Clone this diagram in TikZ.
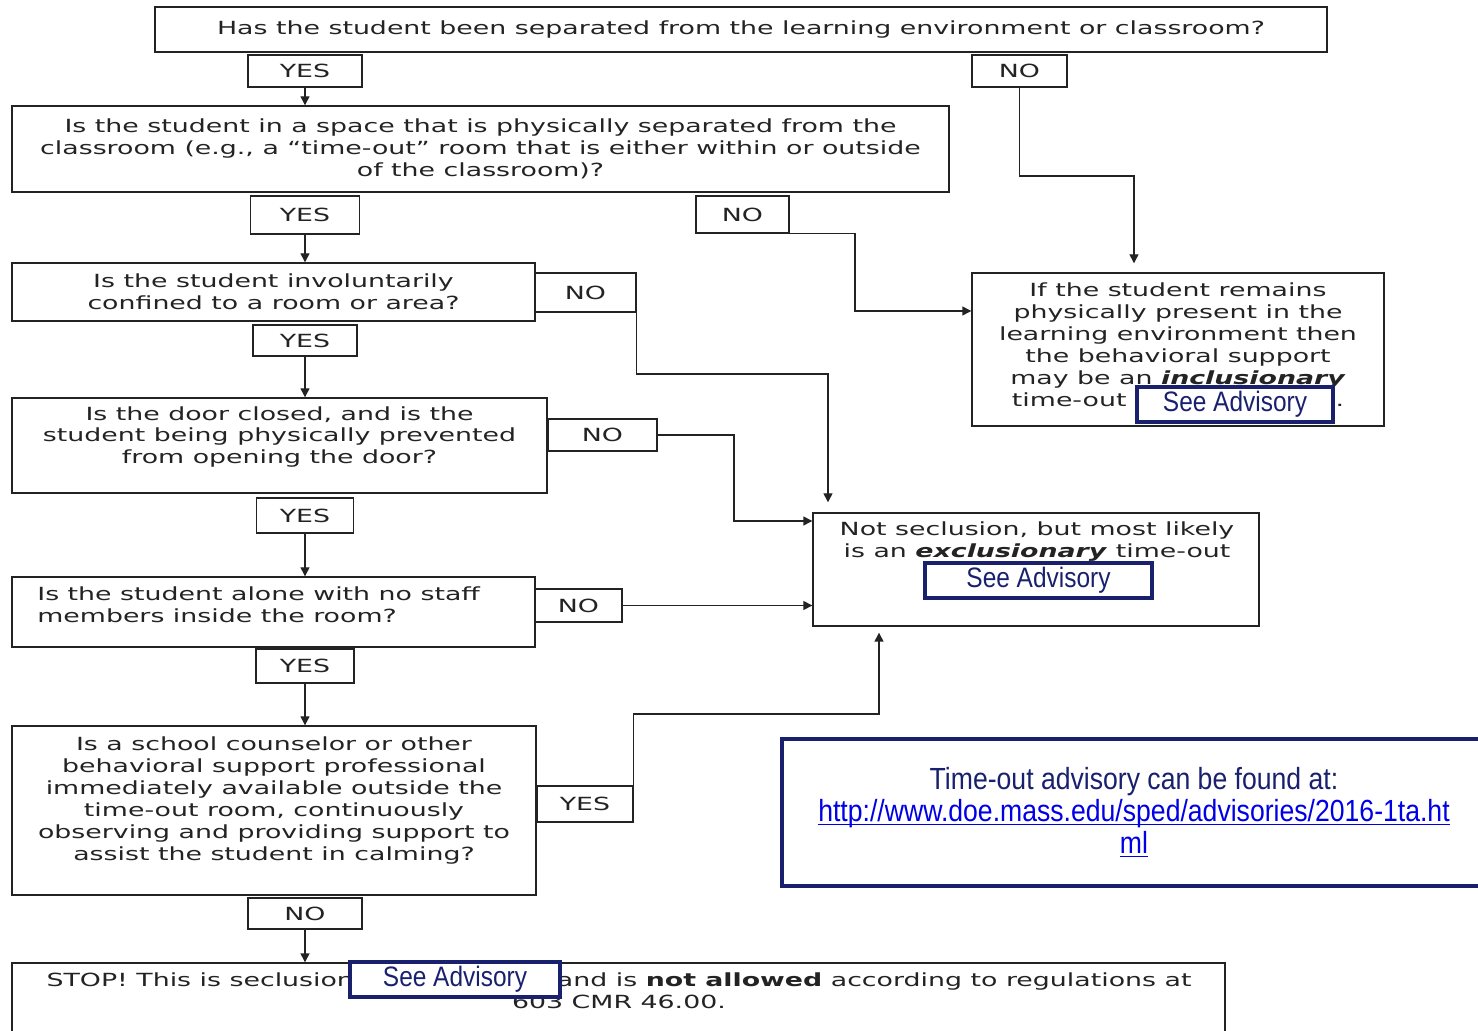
\documentclass[tikz,border=0pt]{standalone}
\usepackage{fontspec}
\setmainfont{DejaVu Sans}[FakeStretch=1.48]
\newfontfamily\advfont{Liberation Sans}[FakeStretch=0.87]
\usetikzlibrary{arrows.meta}
\definecolor{navy}{RGB}{25,33,110}
\definecolor{ink}{RGB}{35,35,35}
\definecolor{linkblue}{RGB}{0,0,230}
\newcommand\linkline[1]{\underline{\smash{#1}}}

\begin{document}
\begin{tikzpicture}[x=0.2mm,y=-0.2mm,
  box/.style={draw=ink,line width=0.8pt,inner sep=0pt,align=center,text=ink,font=\fontsize{10.3}{12.5}\selectfont},
  txt/.style={inner sep=0pt,align=center,text=ink,font=\fontsize{10.3}{12.5}\selectfont},
  seeadv/.style={draw=navy,line width=2pt,fill=white,inner sep=0pt,text=navy,font=\advfont\fontsize{16}{18}\selectfont,minimum height=7mm},
  arr/.style={draw=ink,line width=0.8pt,-{Triangle[length=1.8mm,width=1.8mm]}}]
  \useasboundingbox (0,0) rectangle (1478,1031);
  \fill[white] (0,0) rectangle (1478,1031);

  \node[box,minimum width=234.4mm,minimum height=9mm] (q0) at (741,29.5) {Has the student been separated from the learning environment or classroom?};
  \node[box,minimum width=22.8mm,minimum height=6.4mm] (y0) at (305,71) {YES};
  \node[box,minimum width=19mm,minimum height=6.4mm] (n0) at (1019.5,71) {NO};
  \node[box,minimum width=187.4mm,minimum height=17.2mm] (q1) at (480.5,149) {Is the student in a space that is physically separated from the\\classroom (e.g., a “time-out” room that is either within or outside\\of the classroom)?};
  \node[box,minimum width=21.8mm,minimum height=7.6mm] (y1) at (305,215) {YES};
  \node[box,minimum width=18.6mm,minimum height=7.4mm] (n1) at (742.5,214.5) {NO};
  \node[box,minimum width=104.6mm,minimum height=11.6mm] (q2) at (273.5,292) {Is the student involuntarily\\confined to a room or area?};
  \node[box,minimum width=20.2mm,minimum height=7.8mm] (n2) at (585.5,292.5) {NO};
  \node[box,minimum width=20.8mm,minimum height=6.2mm] (y2) at (305,340.5) {YES};
  \node[box,minimum width=107mm,minimum height=19mm] (q3) at (279.5,445.5) {};
  \node[txt] (q3txt) at (279.5,437) {Is the door closed, and is the\\student being physically prevented\\from opening the door?};
  \node[box,minimum width=21.8mm,minimum height=6.4mm] (n3) at (602.5,435) {NO};
  \node[box,minimum width=19.4mm,minimum height=7mm] (y3) at (305,515.5) {YES};
  \node[box,minimum width=104.6mm,minimum height=14mm] (q4) at (273.5,612) {};
  \node[txt,align=left,anchor=west] (q4txt) at (37,605) {Is the student alone with no staff\\members inside the room?};
  \node[box,minimum width=17.4mm,minimum height=6.6mm] (n4) at (578.5,605.5) {NO};
  \node[box,minimum width=19.6mm,minimum height=6.8mm] (y4) at (305,666) {YES};
  \node[box,minimum width=104.8mm,minimum height=33.8mm] (q5) at (274,810.5) {};
  \node[txt] (q5txt) at (274,800.5) {Is a school counselor or other\\behavioral support professional\\immediately available outside the\\time-out room, continuously\\observing and providing support to\\assist the student in calming?};
  \node[box,minimum width=19.2mm,minimum height=7.2mm] (y5) at (585,804) {YES};
  \node[box,minimum width=22.8mm,minimum height=6.2mm] (n5) at (305,913.5) {NO};
  \node[box,minimum width=242.6mm,minimum height=19.4mm] (s) at (618.5,1011.5) {};
  \node[txt] (stxt) at (619,991) {STOP! This is seclusion\hspace{40.6mm}and is \textbf{not allowed} according to regulations at\\603 CMR 46.00.};
  \node[seeadv,minimum width=42mm] (sa3) at (455,979.5) {See Advisory};

  \node[box,minimum width=82.4mm,minimum height=30.6mm] (r1) at (1178,349.5) {};
  \node[txt] (r1txt) at (1178,345) {If the student remains\\physically present in the\\learning environment then\\the behavioral support\\may be an \textbf{\textit{inclusionary}}\\time-out\hspace{41.8mm}.};
  \node[seeadv,minimum width=39.2mm] (sa1) at (1235,404.5) {See Advisory};

  \node[box,minimum width=89.2mm,minimum height=22.6mm] (r2) at (1036,569.5) {};
  \node[txt] (r2txt) at (1037,541.5) {Not seclusion, but most likely\\is an \textbf{\textit{exclusionary}} time-out};
  \node[seeadv,minimum width=45.4mm] (sa2) at (1038.5,580.5) {See Advisory};

  \node[draw=navy,line width=2.3pt,inner sep=0pt,align=center,text=navy,font=\advfont\fontsize{17.4}{18.2}\selectfont,minimum width=140.8mm,minimum height=29.4mm] (link) at (1134,812.5) {Time-out advisory can be found at:\\\textcolor{linkblue}{\linkline{http://www.doe.mass.edu/sped/advisories/2016-1ta.ht}}\\\textcolor{linkblue}{\linkline{ml}}};

  \draw[arr] (y0.south) -- (y0.south |- q1.north);
  \draw[arr] (y1.south) -- (y1.south |- q2.north);
  \draw[arr] (y2.south) -- (y2.south |- q3.north);
  \draw[arr] (y3.south) -- (y3.south |- q4.north);
  \draw[arr] (y4.south) -- (y4.south |- q5.north);
  \draw[arr] (n5.south) -- (n5.south |- s.north);

  \coordinate (k0) at (1134,176);
  \coordinate (k1) at (855,311);
  \coordinate (k2) at (828,374);
  \coordinate (k3) at (734,521);
  \coordinate (k5) at (879,714);
  \draw[arr,shorten >=1.8mm] (n0.south) |- (k0) -- (k0 |- r1.north);
  \draw[arr] (n1.south east) -| (k1) -- (k1 -| r1.west);
  \draw[arr,shorten >=2mm] (n2.south east) |- (k2) -- (k2 |- r2.north);
  \draw[arr] (n3.east) -| (k3) -- (k3 -| r2.west);
  \draw[arr] (n4.east) -- (n4.east -| r2.west);
  \draw[arr,shorten >=1.2mm] (y5.north east) |- (k5) -- (k5 |- r2.south);
\end{tikzpicture}
\end{document}
